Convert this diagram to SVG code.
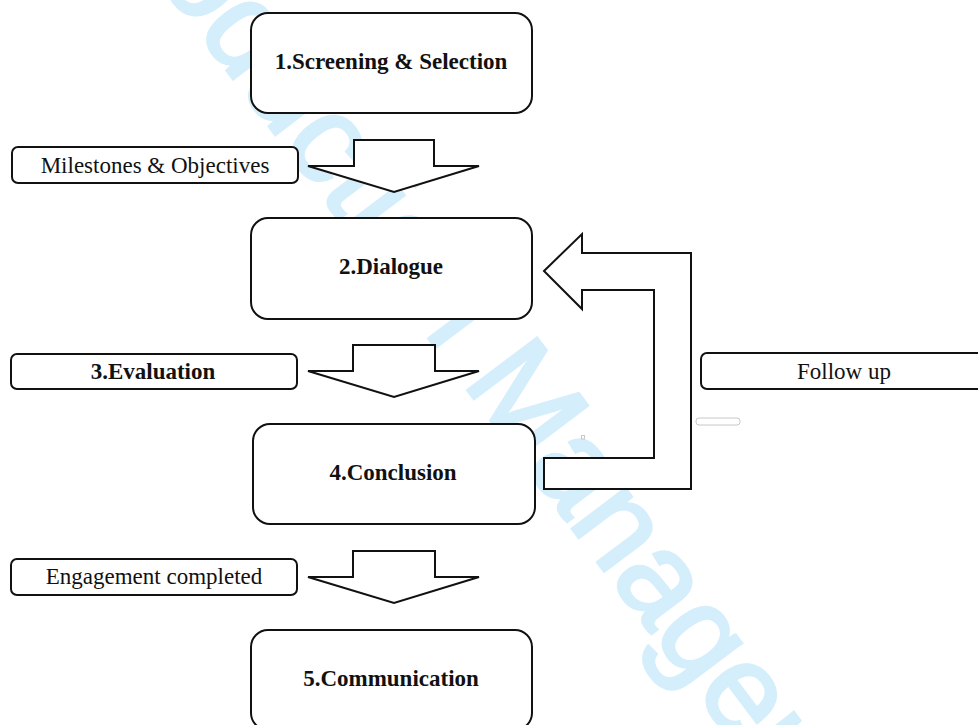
<svg xmlns="http://www.w3.org/2000/svg" width="978" height="725" viewBox="0 0 978 725">
  <style>
    .node { fill: #ffffff; stroke: #111111; stroke-width: 2; }
    .lbl { fill: #ffffff; stroke: #111111; stroke-width: 2; }
    .arrow { fill: #ffffff; stroke: #111111; stroke-width: 2; stroke-linejoin: miter; }
    .t-bold { font-family: "Liberation Serif", "Times New Roman", serif; font-weight: bold; font-size: 23px; fill: #111111; text-anchor: middle; }
    .t-reg { font-family: "Liberation Serif", "Times New Roman", serif; font-size: 23px; fill: #111111; text-anchor: middle; }
    .wm { font-family: "Liberation Sans", Arial, sans-serif; font-size: 126px; fill: #d4eefb; stroke: #d4eefb; stroke-width: 3; }
    .faint { fill: none; stroke: #c8c8c8; stroke-width: 1; }
  </style>
  <rect x="0" y="0" width="978" height="725" fill="#ffffff"/>

  <g id="watermark">
    <text class="wm" transform="translate(78,-127) rotate(53)" x="0" y="0">Production Management</text>
  </g>

  <g id="connectors">
    <polygon class="arrow" points="354,140 434,140 434,166 479,166 394,192 308,166 354,166"/>
    <polygon class="arrow" points="353,345 435,345 435,371 479,371 394,397 308,371 353,371"/>
    <polygon class="arrow" points="353,551 435,551 435,577 479,577 394,603 308,577 353,577"/>
    <polygon class="arrow" points="544,271 582,234 582,253 691,253 691,489 544,489 544,458 654,458 654,290 582,290 582,309"/>
  </g>

  <g id="node-screening">
    <rect class="node" x="251" y="13" width="281" height="100" rx="17"/>
    <text class="t-bold" x="391" y="69">1.Screening &amp; Selection</text>
  </g>

  <g id="label-milestones">
    <rect class="lbl" x="12" y="147" width="286" height="36" rx="6"/>
    <text class="t-reg" x="155" y="173">Milestones &amp; Objectives</text>
  </g>

  <g id="node-dialogue">
    <rect class="node" x="251" y="218" width="281" height="101" rx="17"/>
    <text class="t-bold" x="391" y="274">2.Dialogue</text>
  </g>

  <g id="label-evaluation">
    <rect class="lbl" x="11" y="354" width="286" height="35" rx="6"/>
    <text class="t-bold" x="153" y="379">3.Evaluation</text>
  </g>

  <g id="label-followup">
    <rect class="lbl" x="701" y="353" width="286" height="36" rx="6"/>
    <text class="t-reg" x="844" y="379">Follow up</text>
  </g>

  <g id="node-conclusion">
    <rect class="node" x="253" y="424" width="282" height="100" rx="17"/>
    <text class="t-bold" x="393" y="480">4.Conclusion</text>
  </g>

  <g id="label-engagement">
    <rect class="lbl" x="11" y="559" width="286" height="36" rx="6"/>
    <text class="t-reg" x="154" y="584">Engagement completed</text>
  </g>

  <g id="node-communication">
    <rect class="node" x="251" y="630" width="281" height="100" rx="17"/>
    <text class="t-bold" x="391" y="686">5.Communication</text>
  </g>

  <g id="artifacts">
    <rect class="faint" x="696" y="418" width="44" height="7" rx="3"/>
    <rect class="faint" x="581.5" y="435.5" width="3" height="3.5"/>
  </g>
</svg>
